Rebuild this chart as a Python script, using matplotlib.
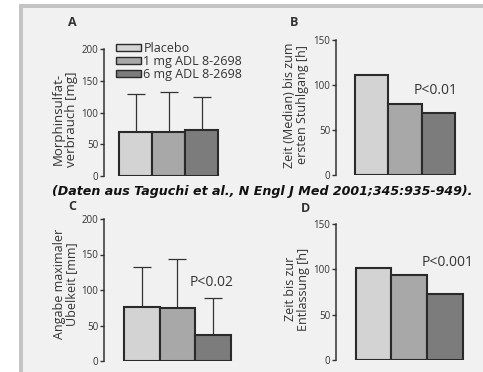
import matplotlib
matplotlib.use("Agg")
import matplotlib.pyplot as plt
from matplotlib.patches import Rectangle, Patch

W, H = 483, 372

groups = ["Placebo", "1 mg ADL 8-2698", "6 mg ADL 8-2698"]
colors = ["#d3d3d3", "#a8a8a8", "#7c7c7c"]

# A: Morphinsulfat-Verbrauch [mg], mean + SD
a_vals = [70, 70, 72]
a_sd = [59, 62, 52]
# B: Zeit bis zum ersten Stuhlgang [h]
b_vals = [111, 79, 69]
# C: maximale Uebelkeit [mm], mean + SD
c_vals = [76, 75, 36]
c_sd = [56, 68, 53]
# D: Zeit bis zur Entlassung [h]
d_vals = [102, 94, 73]

plt.rcParams['font.family'] = ['Open Sans', 'DejaVu Sans']

fig = plt.figure(figsize=(W / 100, H / 100), dpi=100)
fig.patch.set_facecolor("white")

# background panel with grey frame on top / left
bg = fig.add_axes([0, 0, 1, 1])
bg.set_xlim(0, W)
bg.set_ylim(H, 0)
bg.axis("off")
bg.add_patch(Rectangle((19, 4), W - 19, H - 4, facecolor="#c4c4c4", edgecolor="none"))
bg.add_patch(Rectangle((23, 8), W - 23, H - 8, facecolor="#f1f1f1", edgecolor="none"))


def panel(ax_x, bar_l, bar_r, y0, ytop, ymax, ticks):
    unit = (bar_r - bar_l) / 3.0
    left = -0.5 - (bar_l - ax_x) / unit
    right = 2.5 + 4 / unit
    ax = fig.add_axes([ax_x / W, (H - y0) / H,
                       (right - left) * unit / W, (y0 - ytop) / H])
    ax.set_xlim(left, right)
    ax.set_ylim(0, ymax)
    ax.patch.set_alpha(0)
    for s in ["top", "right", "bottom"]:
        ax.spines[s].set_visible(False)
    ax.spines["left"].set_color("#333333")
    ax.spines["left"].set_linewidth(1.1)
    ax.spines["left"].set_bounds(0, ymax)
    ax.set_xticks([])
    ax.set_yticks(ticks)
    ax.tick_params(axis="y", length=3, width=1.0, color="#333333",
                   labelsize=7, labelcolor="#333333", pad=1)
    return ax


def bars(ax, vals, sd=None):
    x = range(len(vals))
    ax.bar(x, vals, width=1.0, color=colors, edgecolor="#2a2a2a",
           linewidth=1.5, zorder=2)
    if sd is not None:
        ax.errorbar(x, vals, yerr=[[0] * len(sd), sd], fmt="none",
                    ecolor="#333333", elinewidth=0.9, capsize=6.5,
                    capthick=0.9, zorder=1)


txt = dict(color="#333333")

# Panel A
axA = panel(104, 119, 218, 176, 49, 200, [0, 50, 100, 150, 200])
bars(axA, a_vals, a_sd)
handles = [Patch(facecolor=c, edgecolor="#2a2a2a", linewidth=1.0) for c in colors]
axA.legend(handles, groups, loc="upper left", bbox_to_anchor=(0.1, 1.055),
           frameon=False, fontsize=9, handlelength=2.05, handleheight=0.4,
           handletextpad=0.15, labelspacing=0.0, borderpad=0, borderaxespad=0,
           labelcolor="#333333")

# Panel B
axB = panel(336, 355, 455, 175, 40, 150, [0, 50, 100, 150])
bars(axB, b_vals)

# Panel C
axC = panel(104, 124, 231, 361, 219, 200, [0, 50, 100, 150, 200])
bars(axC, c_vals, c_sd)

# Panel D
axD = panel(336, 355.7, 463, 360, 224, 150, [0, 50, 100, 150])
bars(axD, d_vals)

# texts in pixel coordinates
bg.text(72, 22, "A", fontsize=9, fontweight="bold", ha="center", va="center", **txt)
bg.text(294, 22, "B", fontsize=9, fontweight="bold", ha="center", va="center", **txt)
bg.text(72, 206, "C", fontsize=9, fontweight="bold", ha="center", va="center", **txt)
bg.text(306, 208, "D", fontsize=9, fontweight="bold", ha="center", va="center", **txt)

bg.text(65, 119, "Morphinsulfat-\nverbrauch [mg]", rotation=90, fontsize=9.5,
        ha="center", va="center", linespacing=1.0, **txt)
bg.text(296, 105, "Zeit (Median) bis zum\nersten Stuhlgang [h]", rotation=90,
        fontsize=9, ha="center", va="center", linespacing=1.0, **txt)
bg.text(66, 284, "Angabe maximaler\nÜbelkeit [mm]", rotation=90, fontsize=9,
        ha="center", va="center", linespacing=1.0, **txt)
bg.text(297, 289, "Zeit bis zur\nEntlassung [h]", rotation=90, fontsize=9,
        ha="center", va="center", linespacing=1.0, **txt)

bg.text(414, 91, "P<0.01", fontsize=10, ha="left", va="center", **txt)
bg.text(190, 283, "P<0.02", fontsize=10, ha="left", va="center", **txt)
bg.text(422, 263, "P<0.001", fontsize=10, ha="left", va="center", **txt)

bg.text(52, 192, "(Daten aus Taguchi et al., N Engl J Med 2001;345:935-949).",
        fontsize=9.1, fontweight="bold", fontstyle="italic",
        family=["DejaVu Sans"], ha="left", va="center", color="#111111")

fig.savefig("out.png", dpi=100)
